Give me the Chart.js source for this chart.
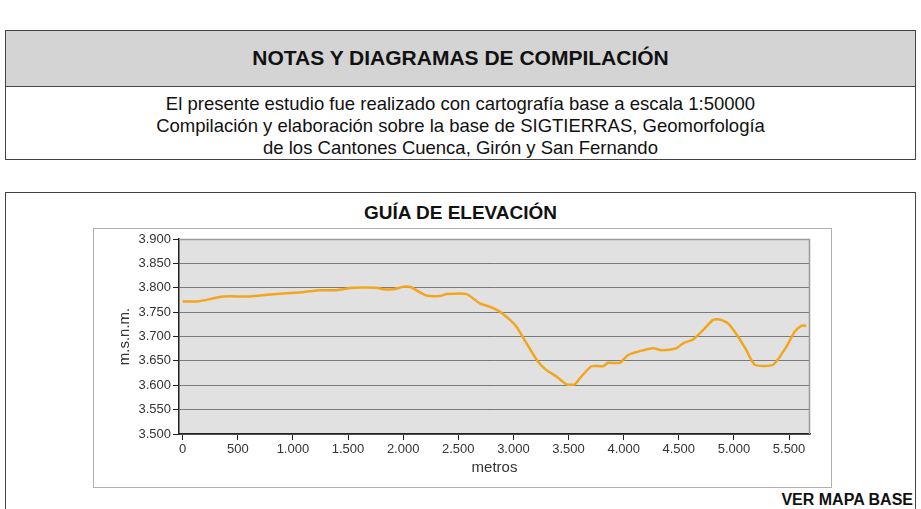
<!DOCTYPE html>
<html>
<head>
<meta charset="utf-8">
<script src="https://cdn.jsdelivr.net/npm/chart.js@4/dist/chart.umd.min.js"></script>
<style>
  html, body { margin:0; padding:0; background:#fff; width:921px; height:509px; overflow:hidden; font-family:"Liberation Sans", Arial, sans-serif; }
  .box1 { position:absolute; left:5px; top:30px; width:911px; height:130px; border:1px solid #444; box-sizing:border-box; }
  .hdr { position:absolute; left:0; top:0; width:100%; height:56px; background:#d4d4d4; border-bottom:1px solid #444; box-sizing:border-box;
         font-weight:bold; font-size:21px; text-align:center; line-height:54px; color:#111; }
  .notes { position:absolute; left:0; top:62px; width:100%; text-align:center; font-size:18.5px; line-height:22px; color:#111; }
  .box2 { position:absolute; left:5px; top:192px; width:911px; height:330px; border:1px solid #444; box-sizing:border-box; }
  .ttl { position:absolute; left:0; top:203px; width:921px; text-align:center; font-weight:bold; font-size:19px; line-height:20px; color:#111; }
  .frame { position:absolute; left:93px; top:228px; width:739px; height:260px; border:1px solid #b0b0b0; box-sizing:border-box; }
  .ver { position:absolute; right:8px; top:491px; font-weight:bold; font-size:16px; line-height:18px; color:#111; }
  #wrap { position:absolute; left:93px; top:228px; width:739px; height:260px; }
</style>
</head>
<body>
<div class="box1">
  <div class="hdr">NOTAS Y DIAGRAMAS DE COMPILACIÓN</div>
  <div class="notes">El presente estudio fue realizado con cartografía base a escala 1:50000<br>Compilación y elaboración sobre la base de SIGTIERRAS, Geomorfología<br>de los Cantones Cuenca, Girón y San Fernando</div>
</div>
<div class="box2"></div>
<div class="ttl">GUÍA DE ELEVACIÓN</div>
<div class="frame"></div>
<div id="wrap"><canvas id="c" width="739" height="260"></canvas></div>
<div class="ver">VER MAPA BASE</div>
<script>
const distances = [0, 141, 368, 610, 791, 1093, 1245, 1396, 1547, 1759, 1819, 1910, 2000, 2061, 2212, 2333, 2393, 2575, 2695, 2786, 2877, 2968, 3028, 3119, 3224, 3300, 3391, 3481, 3557, 3602, 3708, 3813, 3859, 3965, 4040, 4146, 4267, 4343, 4479, 4539, 4629, 4720, 4811, 4871, 4947, 5037, 5113, 5189, 5355, 5476, 5551, 5612, 5657];
const elevations = [3772, 3772, 3782, 3782, 3786, 3791, 3795, 3795, 3800, 3800, 3797, 3797, 3802, 3802, 3784, 3783, 3787, 3787, 3768, 3761, 3751, 3734, 3720, 3686, 3648, 3631, 3618, 3602, 3602, 3614, 3639, 3639, 3646, 3646, 3662, 3670, 3676, 3672, 3676, 3686, 3694, 3713, 3734, 3735, 3727, 3700, 3672, 3642, 3642, 3679, 3710, 3722, 3722];
const xTicks = [0, 500, 1000, 1500, 2000, 2500, 3000, 3500, 4000, 4500, 5000, 5500];
const yTicks = [3500, 3550, 3600, 3650, 3700, 3750, 3800, 3850, 3900];
const xTitle = "metros";
const yTitle = "m.s.n.m.";

function fmt(v) {
  if (v < 1000) return String(v);
  const th = Math.floor(v / 1000), r = v % 1000;
  return th + "." + String(r).padStart(3, "0");
}

const bgPlugin = {
  id: "bg",
  beforeDraw(chart) {
    const a = chart.chartArea, ctx = chart.ctx;
    ctx.save();
    ctx.fillStyle = "#e1e1e1";
    ctx.fillRect(a.left, a.top, a.right - a.left, a.bottom - a.top);
    ctx.restore();
  },
  afterDraw(chart) {
    const a = chart.chartArea, ctx = chart.ctx;
    ctx.save();
    ctx.strokeStyle = "#9a9a9a";
    ctx.lineWidth = 1.5;
    ctx.beginPath();
    ctx.moveTo(a.left, a.top + 0.5);
    ctx.lineTo(a.right - 0.5, a.top + 0.5);
    ctx.lineTo(a.right - 0.5, a.bottom);
    ctx.stroke();
    ctx.restore();
  }
};

new Chart(document.getElementById("c"), {
  type: "line",
  data: {
    datasets: [{
      data: distances.map((d, i) => ({ x: d, y: elevations[i] })),
      borderColor: "#f2a61e",
      borderWidth: 2.5,
      pointRadius: 0,
      tension: 0.2,
      fill: false
    }]
  },
  options: {
    responsive: false,
    animation: false,
    devicePixelRatio: 1,
    layout: { padding: { left: 0, right: 22, top: 11, bottom: 0 } },
    plugins: { legend: { display: false }, tooltip: { enabled: false } },
    scales: {
      x: {
        type: "linear",
        min: -33,
        max: 5690,
        afterBuildTicks(s) { s.ticks = xTicks.map(v => ({ value: v })); },
        afterFit(s) { s.height = 54; },
        ticks: { callback: v => fmt(v), color: "#333", font: { family: "Liberation Sans", size: 13 }, maxRotation: 0, autoSkip: false, padding: 2 },
        grid: { drawOnChartArea: false, drawTicks: true, tickLength: 6, tickColor: "#222", tickWidth: 1 },
        border: { display: true, color: "#222", width: 1.5 },
        title: { display: true, text: xTitle, color: "#333", font: { family: "Liberation Sans", size: 15 }, padding: { top: 0, bottom: 11 } }
      },
      y: {
        type: "linear",
        min: 3500,
        max: 3900,
        afterBuildTicks(s) { s.ticks = yTicks.map(v => ({ value: v })); },
        afterFit(s) { s.width = 86; },
        ticks: { callback: v => fmt(v), color: "#333", font: { family: "Liberation Sans", size: 13 }, padding: 2 },
        grid: { color: "#7a7a7a", lineWidth: 1, borderDash: [1, 1], drawTicks: true, tickLength: 6, tickColor: "#222", tickWidth: 1, tickBorderDash: [] },
        border: { display: true, color: "#222", width: 1.5 },
        title: { display: true, text: yTitle, color: "#333", font: { family: "Liberation Sans", size: 15 }, padding: { top: 23, bottom: 0 } }
      }
    }
  },
  plugins: [bgPlugin]
});
</script>
</body>
</html>
